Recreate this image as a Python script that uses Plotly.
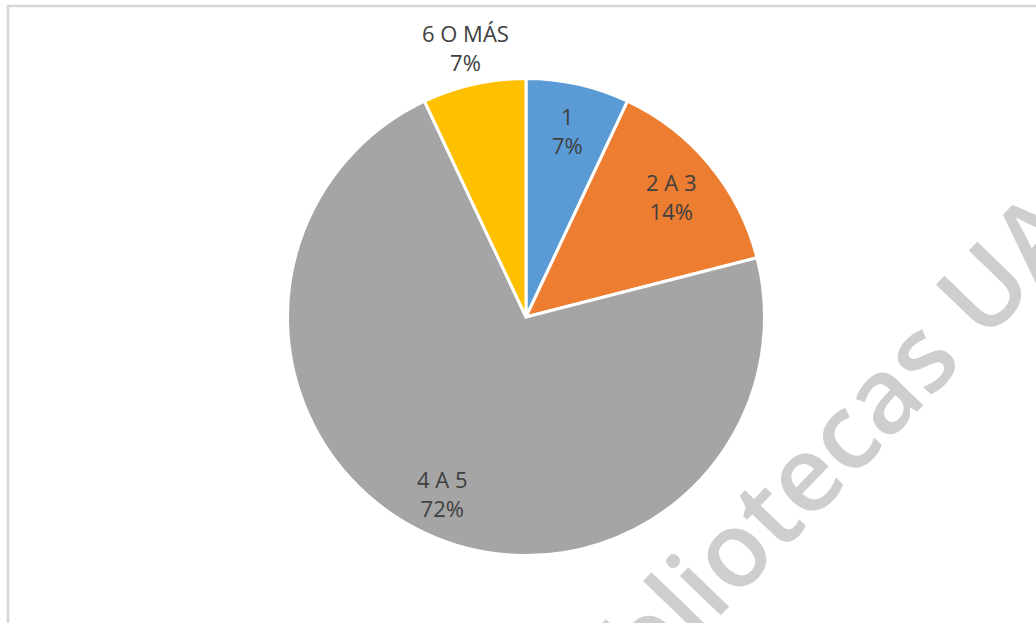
import math
import plotly.graph_objects as go

# Household size distribution
categories = ["1", "2 A 3", "4 A 5", "6 O MÁS"]
values = [7, 14, 72, 7]
colors = ["#5B9BD5", "#ED7D31", "#A5A5A5", "#FFC000"]

W, H = 1036, 623
CX, CY, R = 526, 317, 238.5          # pie centre and radius in pixels
LABEL_R = [0.80, 0.79, 0.82, 1.16]   # radial position of each label (fraction of R)

def px(x):
    return x / W

def py(y):
    return 1 - y / H

fig = go.Figure()
fig.add_trace(go.Pie(
    labels=categories,
    values=values,
    sort=False,
    direction="clockwise",
    rotation=0,
    marker=dict(colors=colors, line=dict(color="white", width=3)),
    textinfo="none",
    hoverinfo="label+percent",
    showlegend=False,
    domain=dict(x=[px(CX - R), px(CX + R)], y=[py(CY + R), py(CY - R)]),
))

# Watermark
fig.add_annotation(
    text="Bibliotecas UA",
    xref="paper", yref="paper",
    x=px(804), y=py(470),
    xanchor="center", yanchor="middle",
    textangle=-46,
    showarrow=False,
    font=dict(family="Open Sans", size=105, color="#CECECE", weight=600),
)

# Data labels placed at each slice's mid-angle
total = sum(values)
start = 0.0
for cat, val, lr in zip(categories, values, LABEL_R):
    frac = val / total
    mid = 2 * math.pi * (start + frac / 2)
    start += frac
    lx = CX + lr * R * math.sin(mid)
    ly = CY - lr * R * math.cos(mid)
    fig.add_annotation(
        text=f"{cat}<br>{round(frac * 100)}%",
        xref="paper", yref="paper",
        x=px(lx), y=py(ly),
        xanchor="center", yanchor="middle",
        showarrow=False,
        font=dict(family="Open Sans", size=22, color="#404040"),
    )

# Chart area border
fig.add_shape(
    type="rect", xref="paper", yref="paper",
    x0=px(8), y0=py(H + 20), x1=px(W + 20), y1=py(6),
    line=dict(color="#D6D6D6", width=2.5),
    fillcolor="rgba(0,0,0,0)",
)

fig.update_layout(
    width=W, height=H,
    margin=dict(l=0, r=0, t=0, b=0),
    paper_bgcolor="white",
    plot_bgcolor="white",
)

fig.write_html("out.html")
